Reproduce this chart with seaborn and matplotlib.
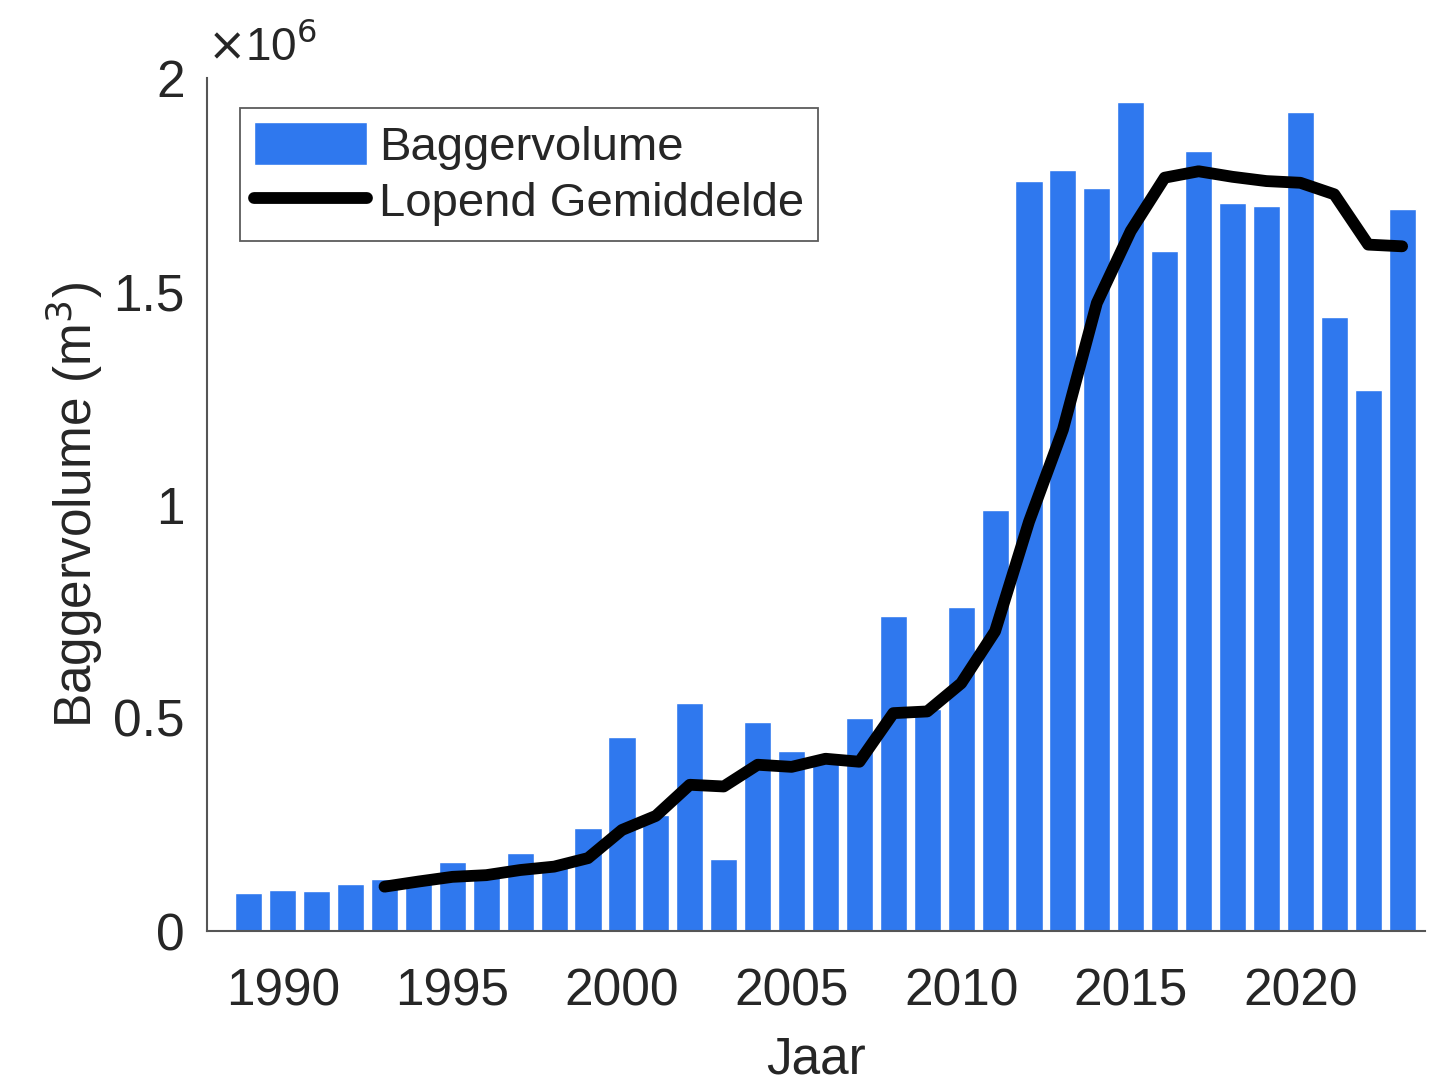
import matplotlib
matplotlib.use("Agg")
import matplotlib.pyplot as plt
import seaborn as sns
import numpy as np
import pandas as pd

# jaren en baggervolume (m3)
jaren = list(range(1989, 2024))
baggervolume = [0.090e6, 0.095e6, 0.093e6, 0.110e6, 0.123e6, 0.115e6, 0.161e6, 0.140e6,
                0.182e6, 0.165e6, 0.242e6, 0.454e6, 0.272e6, 0.534e6, 0.169e6, 0.491e6,
                0.423e6, 0.400e6, 0.499e6, 0.738e6, 0.520e6, 0.761e6, 0.988e6, 1.759e6,
                1.786e6, 1.743e6, 1.944e6, 1.595e6, 1.829e6, 1.708e6, 1.700e6, 1.922e6,
                1.440e6, 1.268e6, 1.694e6]

# lopend gemiddelde (vanaf 1993)
jaren_gem = list(range(1993, 2024))
lopend_gem = [0.104e6, 0.116e6, 0.127e6, 0.131e6, 0.143e6, 0.151e6, 0.171e6, 0.237e6,
              0.270e6, 0.343e6, 0.339e6, 0.390e6, 0.385e6, 0.404e6, 0.397e6, 0.511e6,
              0.515e6, 0.581e6, 0.703e6, 0.960e6, 1.176e6, 1.473e6, 1.642e6, 1.767e6,
              1.782e6, 1.769e6, 1.759e6, 1.755e6, 1.728e6, 1.610e6, 1.606e6]

df_bar = pd.DataFrame({'Jaar': jaren, 'Volume': baggervolume})
df_gem = pd.DataFrame({'Jaar': jaren_gem, 'Gem': lopend_gem})

sns.set_style("white")
plt.rcParams['font.family'] = ['Liberation Sans', 'DejaVu Sans']
tekst = '#262626'

fig = plt.figure(figsize=(14.36, 10.88), dpi=100)
ax = fig.add_axes([0.144, 0.1443, 0.848, 0.7837])

sns.barplot(data=df_bar, x='Jaar', y='Volume', native_scale=True, width=0.8,
            color='#2f78ee', saturation=1, ax=ax, label='Baggervolume', zorder=2)
sns.lineplot(data=df_gem, x='Jaar', y='Gem', color='black', linewidth=8.5,
             ax=ax, label='Lopend Gemiddelde', zorder=3)

ax.set_xlim(1987.76, 2023.66)
ax.set_ylim(0, 2e6)
ax.set_xticks([1990, 1995, 2000, 2005, 2010, 2015, 2020])
ax.set_yticks([0, 0.5e6, 1e6, 1.5e6, 2e6])
ax.set_yticklabels(['0', '0.5', '1', '1.5', '2'])

for s in ['top', 'right']:
    ax.spines[s].set_visible(False)
for s in ['left', 'bottom']:
    ax.spines[s].set_color('#555555')
    ax.spines[s].set_linewidth(1.5)

ax.tick_params(axis='both', direction='in', length=8, width=1.3, colors='#555555',
               labelsize=37, labelcolor=tekst)
ax.tick_params(axis='x', pad=26)
ax.tick_params(axis='y', pad=16)

ax.set_xlabel('Jaar', fontsize=37, color=tekst, labelpad=14)
ax.set_ylabel('Baggervolume (m$^3$)', fontsize=37, color=tekst, labelpad=6)

ax.text(0.0, 1.01, r'$\times$10$^6$', transform=ax.transAxes, fontsize=33,
        color=tekst, ha='left', va='bottom')

handles, labels = ax.get_legend_handles_labels()
volgorde = [labels.index('Baggervolume'), labels.index('Lopend Gemiddelde')]
leg = ax.legend([handles[i] for i in volgorde], [labels[i] for i in volgorde],
                loc='upper left', bbox_to_anchor=(0.027, 0.965), fontsize=34,
                frameon=True, fancybox=False, edgecolor='#333333',
                handlelength=2.4, handleheight=1.0, handletextpad=0.25,
                labelspacing=0.2, borderpad=0.3, borderaxespad=0)
leg.get_frame().set_linewidth(1.3)
for t in leg.get_texts():
    t.set_color(tekst)

fig.savefig('out.png', dpi=100)
